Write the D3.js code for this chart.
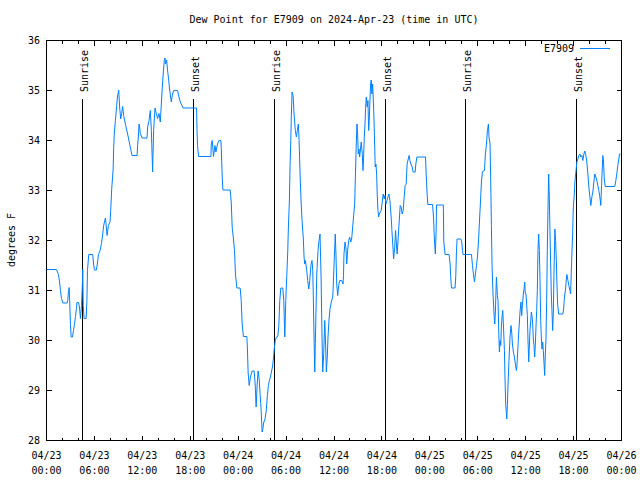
<!DOCTYPE html>
<html><head><meta charset="utf-8">
<script src="https://cdn.jsdelivr.net/npm/d3@7"></script>
<style>body{margin:0;background:#fff}svg{display:block}</style>
</head><body>
<svg id="chart" width="640" height="480"></svg>
<script>
const titleText = "Dew Point for E7909 on 2024-Apr-23 (time in UTC)";
const seriesName = "E7909";
const yLabel = "degrees F";
const startTime = "2024-04-23T00:00:00Z";
// hours since 2024-04-23 00:00 UTC
const hours = [0,1.25,1.5,1.63,1.75,1.88,2.04,2.59,2.66,2.75,2.84,2.9,3.0,3.09,3.25,3.38,3.5,3.63,3.75,3.81,4.0,4.13,4.19,4.25,4.38,4.5,4.54,4.6,4.71,4.96,5.06,5.13,5.29,5.79,5.88,6.0,6.25,6.38,6.5,6.71,6.88,7.04,7.16,7.29,7.38,7.59,7.75,7.96,8.04,8.16,8.34,8.41,8.5,8.63,8.75,8.88,9.04,9.16,9.29,9.41,9.54,9.66,9.91,10.16,10.41,10.71,11.34,11.41,11.5,11.59,11.66,11.75,11.96,12.59,12.66,12.84,13.0,13.13,13.29,13.41,13.59,13.75,13.91,14.09,14.25,14.38,14.5,14.63,14.75,14.84,14.91,15.04,15.16,15.29,15.41,15.54,15.63,15.75,15.91,16.41,16.59,16.75,16.96,17.09,18.79,18.84,18.91,19.04,20.59,20.63,20.75,20.91,21.09,21.21,21.41,21.59,21.84,21.91,22.0,22.09,23.0,23.13,23.25,23.41,23.54,23.66,23.84,24.25,24.38,24.5,24.66,25.09,25.16,25.25,25.38,25.54,25.75,26.0,26.13,26.25,26.38,26.5,26.63,26.75,26.88,27.0,27.09,27.21,27.34,27.5,27.66,27.79,27.91,28.04,28.16,28.29,28.41,28.54,28.66,28.79,28.96,29.09,29.21,29.34,29.59,29.71,29.84,29.96,30.09,30.21,30.29,30.41,30.5,30.59,30.66,30.75,30.88,31.0,31.16,31.29,31.41,31.54,31.63,31.75,31.88,32.0,32.16,32.25,32.34,32.41,32.5,32.59,32.71,32.84,32.96,33.13,33.25,33.34,33.41,33.5,33.59,33.66,33.75,33.84,34.0,34.13,34.25,34.38,34.5,34.59,34.71,34.84,34.96,35.04,35.16,35.25,35.38,35.5,35.66,35.84,35.91,36.04,36.16,36.25,36.34,36.46,36.59,36.71,36.96,37.13,37.19,37.25,37.38,37.5,37.59,37.71,37.84,37.96,38.09,38.21,38.34,38.46,38.59,38.66,38.79,38.88,38.96,39.04,39.13,39.21,39.34,39.41,39.54,39.63,39.71,39.79,39.88,39.96,40.04,40.16,40.25,40.34,40.41,40.5,40.59,40.66,40.75,40.84,40.91,41.0,41.09,41.16,41.25,41.34,41.41,41.5,41.59,41.66,41.91,42.04,42.16,42.29,42.38,42.5,42.63,42.75,42.88,43.0,43.13,43.21,43.25,43.38,43.46,43.59,43.71,43.84,43.91,44.04,44.16,44.29,44.41,44.54,44.66,44.79,44.91,45.04,45.09,45.16,45.29,45.41,45.5,45.63,45.79,45.91,46.16,46.25,46.38,47.46,47.54,47.66,47.75,48.34,48.46,48.59,48.69,48.79,48.84,49.69,49.75,49.91,50.41,50.54,50.63,50.71,51.16,51.25,51.34,51.41,51.88,52.0,52.09,52.16,53.21,53.34,53.46,53.59,53.71,53.84,53.96,54.09,54.21,54.34,54.46,54.59,54.84,54.96,55.09,55.21,55.34,55.41,55.54,55.63,55.71,55.79,55.91,56.04,56.13,56.21,56.29,56.34,56.46,56.54,56.63,56.71,56.79,56.88,56.96,57.04,57.13,57.21,57.34,57.41,57.5,57.63,57.71,57.79,57.91,58.04,58.16,58.25,58.34,58.46,58.59,58.71,58.84,58.91,59.04,59.16,59.29,59.41,59.5,59.59,59.71,59.84,59.88,59.96,60.04,60.21,60.29,60.38,60.46,60.54,60.63,60.71,60.79,60.88,60.96,61.04,61.13,61.21,61.29,61.38,61.46,61.54,61.63,61.71,61.79,61.88,61.96,62.04,62.13,62.21,62.29,62.38,62.46,62.54,62.63,62.71,62.79,62.88,62.96,63.04,63.13,63.21,63.29,63.38,63.46,63.54,63.66,63.75,63.84,63.91,64.0,64.13,64.66,64.75,64.84,64.91,65.0,65.09,65.16,65.29,65.41,65.54,65.63,65.71,65.79,65.88,65.96,66.09,66.16,66.29,66.41,66.54,66.66,66.79,66.91,67.04,67.16,67.29,67.41,67.54,67.66,67.79,67.91,68.04,68.16,68.29,68.41,68.54,68.66,68.79,68.91,69.04,69.16,69.29,69.41,69.5,69.59,69.66,69.75,69.84,69.96,71.16,71.29,71.41,71.54,71.66,71.75,71.88];
const dewF = [31.42,31.42,31.32,31.17,31.0,30.84,30.75,30.75,30.8,30.98,31.06,30.8,30.32,30.07,30.07,30.2,30.32,30.48,30.64,30.76,30.76,30.67,30.55,30.44,30.7,31.15,31.42,30.7,30.44,30.44,30.8,31.4,31.72,31.72,31.55,31.41,31.41,31.55,31.72,31.8,31.94,32.13,32.3,32.4,32.45,32.1,32.3,32.38,32.6,33.02,33.41,33.84,34.17,34.4,34.63,34.87,35.01,34.67,34.43,34.54,34.68,34.5,34.3,34.13,33.93,33.7,33.7,33.9,34.07,34.33,34.27,34.14,34.05,34.05,34.27,34.4,34.6,34.2,33.37,34.2,34.65,34.54,34.44,34.54,34.37,34.73,35.07,35.37,35.6,35.65,35.53,35.61,35.4,35.23,35.03,34.87,34.77,34.9,35.0,35.0,34.87,34.77,34.7,34.65,34.65,34.27,33.9,33.68,33.68,33.93,34.0,33.68,33.9,33.77,33.93,34.0,34.0,33.73,33.27,33.01,33.01,32.77,32.27,32.03,31.8,31.33,31.05,31.05,30.8,30.33,30.08,30.08,29.83,29.35,29.1,29.27,29.39,29.39,29.13,28.67,29.13,29.39,29.23,28.92,28.6,28.17,28.23,28.37,28.41,28.57,28.9,29.1,29.2,29.27,29.37,29.47,29.63,29.87,30.0,30.07,30.08,30.3,30.8,31.05,31.05,30.8,30.07,30.8,31.3,31.79,32.27,32.77,33.5,34.0,34.5,34.97,34.9,34.53,34.2,34.07,34.2,34.33,34.0,33.33,32.77,32.4,32.03,31.67,31.53,31.6,31.5,31.4,31.2,31.03,31.2,31.53,31.6,31.4,30.87,30.07,29.37,29.94,30.63,31.33,31.8,32.0,32.13,31.27,30.07,29.37,29.74,30.4,29.87,29.37,29.67,30.07,30.43,30.63,30.77,30.87,31.1,31.67,32.13,31.7,31.13,30.9,31.1,31.2,31.2,31.13,31.3,31.73,31.97,31.85,31.53,31.8,32.0,32.07,31.97,32.03,32.27,32.5,32.73,33.17,33.93,34.33,34.13,33.73,33.83,33.67,33.87,33.97,33.73,33.4,33.67,34.07,34.33,34.67,34.87,34.67,34.8,34.2,34.4,34.8,35.13,35.21,34.93,35.13,34.87,34.47,33.93,33.47,33.53,33.33,32.93,32.6,32.47,32.53,32.6,32.77,32.93,32.83,32.9,32.73,32.8,32.87,32.93,32.8,32.53,32.33,32.2,31.87,31.63,31.83,32.2,31.87,31.73,32.07,32.37,32.7,32.67,32.53,32.6,32.87,33.1,33.13,33.33,33.53,33.63,33.7,33.6,33.53,33.47,33.37,33.37,33.53,33.67,33.67,33.33,32.93,32.72,32.72,32.47,31.97,31.73,32.2,32.71,32.71,31.97,31.72,31.72,31.53,31.23,31.05,31.05,31.3,31.8,32.03,32.03,31.97,31.8,31.72,31.72,31.5,31.33,31.17,31.33,31.5,31.67,31.97,32.37,32.77,33.17,33.38,33.4,33.73,33.93,34.2,34.33,34.07,33.93,33.13,32.3,31.5,30.93,30.53,30.33,30.57,31.03,31.27,30.9,30.8,30.17,29.77,30.0,29.9,30.27,30.47,30.6,30.33,29.8,29.27,28.73,28.43,28.7,29.13,29.6,30.07,30.3,30.17,29.93,29.77,29.67,29.53,29.4,29.5,29.9,30.23,30.57,30.77,30.5,30.7,30.93,31.1,31.17,30.93,30.93,30.5,30.03,29.57,29.87,30.2,30.37,30.57,30.5,30.33,30.03,29.9,29.67,29.93,30.27,30.6,31.0,31.8,32.13,31.8,31.27,30.4,30.07,29.83,29.97,29.8,29.57,29.3,29.73,30.0,30.8,31.8,32.6,33.33,32.87,32.2,31.53,30.93,30.6,30.2,30.53,31.3,32.23,32.0,31.6,31.17,30.73,30.53,30.53,30.63,30.83,30.93,31.03,31.23,31.32,31.2,31.1,31.0,30.93,31.37,31.73,32.13,32.63,32.93,33.17,33.37,33.57,33.63,33.7,33.73,33.67,33.7,33.6,33.73,33.79,33.7,33.57,33.33,33.07,32.87,32.7,32.87,32.97,33.17,33.33,33.27,33.2,33.1,33.0,32.87,32.7,33.1,33.43,33.7,33.57,33.23,33.08,33.08,33.2,33.33,33.5,33.63,33.73,33.73];
const sunLabels = ["Sunrise","Sunset","Sunrise","Sunset","Sunrise","Sunset"];
const sunHours = [4.53, 18.46, 28.53, 42.45, 52.43, 66.42];
const yTicks = [28,29,30,31,32,33,34,35,36];
const xMajorHours = [0,6,12,18,24,30,36,42,48,54,60,66,72];
const xMinorHours = [2,4,8,10,14,16,20,22,26,28,32,34,38,40,44,46,50,52,56,58,62,64,68,70];

const t0 = new Date(startTime);
const toDate = h => new Date(t0.getTime() + h * 3600000);
const data = hours.map((h, i) => ({t: toDate(h), v: dewF[i]}));

const W = 640, H = 480;
const L = 46.5, R = 621.5, T = 40.5, B = 440.5;
const FONT = "'DejaVu Sans Mono', 'Liberation Mono', monospace";
const svg = d3.select("#chart");
svg.append("rect").attr("width", W).attr("height", H).attr("fill", "#fff");

const x = d3.scaleUtc().domain([toDate(0), toDate(72)]).range([L, R]);
const y = d3.scaleLinear().domain([28, 36]).range([B, T]);

const g = svg.append("g").attr("shape-rendering", "crispEdges");

// ticks
const tickPath = d3.path();
xMajorHours.forEach(h => { const px = Math.round(x(toDate(h)) - 0.5) + 0.5;
  tickPath.moveTo(px, B); tickPath.lineTo(px, B - 5);
  tickPath.moveTo(px, T); tickPath.lineTo(px, T + 5); });
xMinorHours.forEach(h => { const px = Math.round(x(toDate(h)) - 0.5) + 0.5;
  tickPath.moveTo(px, B); tickPath.lineTo(px, B - 3);
  tickPath.moveTo(px, T); tickPath.lineTo(px, T + 3); });
yTicks.forEach(v => { const py = Math.round(y(v) - 0.5) + 0.5;
  tickPath.moveTo(L, py); tickPath.lineTo(L + 5, py);
  tickPath.moveTo(R, py); tickPath.lineTo(R - 5, py); });
g.append("path").attr("d", tickPath.toString()).attr("stroke", "#000").attr("fill", "none");

// sunrise/sunset lines
const sunG = svg.append("g");
sunHours.forEach((h, i) => {
  const px = Math.round(x(toDate(h)) - 0.5) + 0.5;
  sunG.append("line").attr("x1", px).attr("x2", px).attr("y1", 99).attr("y2", B)
    .attr("stroke", "#000").attr("stroke-width", 1).attr("shape-rendering", "crispEdges");
  sunG.append("text").attr("transform", `translate(${px + 5},92) rotate(-90)`)
    .attr("text-anchor", "start").attr("font-family", FONT).attr("font-size", 10)
    .attr("fill", "#000").text(sunLabels[i]);
});

// data line
svg.append("path").datum(data)
  .attr("fill", "none").attr("stroke", "#0080ff").attr("stroke-width", 1)
  .attr("d", d3.line().x(d => x(d.t)).y(d => y(d.v)));

// frame
g.append("rect").attr("x", L).attr("y", T).attr("width", R - L).attr("height", B - T)
  .attr("fill", "none").attr("stroke", "#000");

// y tick labels
svg.append("g").selectAll("text").data(yTicks).join("text")
  .attr("x", 40).attr("y", d => y(d)).attr("dy", "0.35em")
  .attr("text-anchor", "end").attr("font-family", FONT).attr("font-size", 10)
  .text(d => d);

// x tick labels
const fmtDate = d3.utcFormat("%m/%d"), fmtTime = d3.utcFormat("%H:%M");
const xl = svg.append("g").selectAll("g").data(xMajorHours).join("g");
xl.append("text").attr("x", h => x(toDate(h))).attr("y", 459)
  .attr("text-anchor", "middle").attr("font-family", FONT).attr("font-size", 10)
  .text(h => fmtDate(toDate(h)));
xl.append("text").attr("x", h => x(toDate(h))).attr("y", 473.5)
  .attr("text-anchor", "middle").attr("font-family", FONT).attr("font-size", 10)
  .text(h => fmtTime(toDate(h)));

// title
svg.append("text").attr("x", (L + R) / 2).attr("y", 23).attr("text-anchor", "middle")
  .attr("font-family", FONT).attr("font-size", 10).text(titleText);

// y label
svg.append("text").attr("transform", "translate(15,240) rotate(-90)")
  .attr("text-anchor", "middle").attr("font-family", FONT).attr("font-size", 10)
  .text(yLabel);

// legend
svg.append("text").attr("x", 574).attr("y", 52).attr("text-anchor", "end")
  .attr("font-family", FONT).attr("font-size", 10).text(seriesName);
svg.append("line").attr("x1", 580).attr("x2", 610).attr("y1", 48.5).attr("y2", 48.5)
  .attr("stroke", "#0080ff").attr("stroke-width", 1).attr("shape-rendering", "crispEdges");
</script>
</body></html>
